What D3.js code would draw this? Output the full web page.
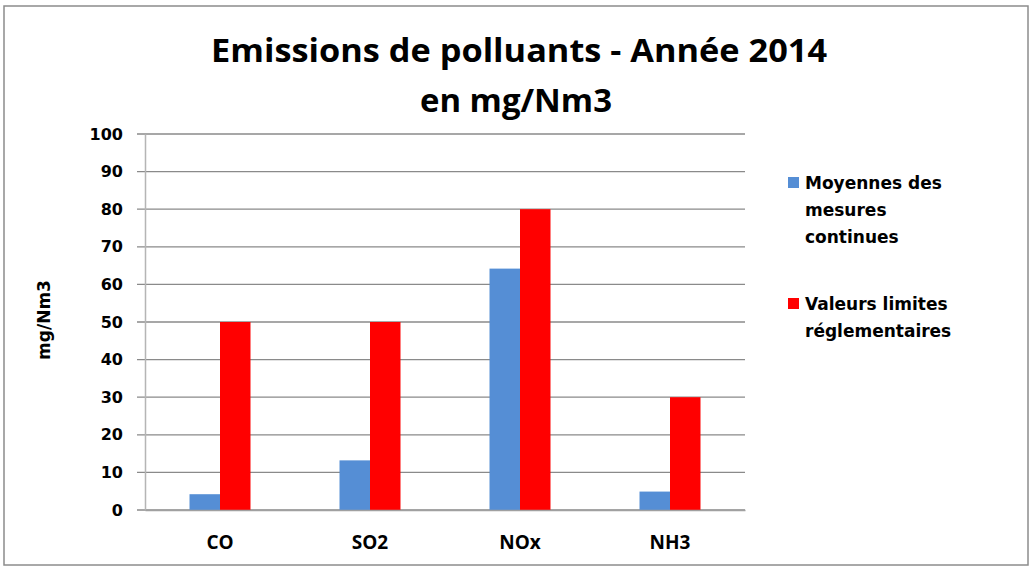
<!DOCTYPE html>
<html>
<head>
<meta charset="utf-8">
<script src="https://cdn.jsdelivr.net/npm/d3@7"></script>
<style>
  body { margin: 0; background: #fff; }
  svg { display: block; }
</style>
</head>
<body>
<div id="chart-container"></div>
<script>
// data
const categories = ["CO", "SO2", "NOx", "NH3"];
const seriesNames = ["Moyennes des mesures continues", "Valeurs limites réglementaires"];
const moyennes = [4.2, 13.2, 64.2, 4.9];
const limites = [50, 50, 80, 30];
const yTicks = [0, 10, 20, 30, 40, 50, 60, 70, 80, 90, 100];
const legendLines = [["Moyennes des", "mesures", "continues"], ["Valeurs limites", "réglementaires"]];
const colors = ["#558ed5", "#ff0000"];

const W = 1030, H = 566;
const margin = { top: 134, right: 285, bottom: 56, left: 145 };
const width = W - margin.left - margin.right;
const height = H - margin.top - margin.bottom;

const svg = d3.select("#chart-container")
  .append("svg")
    .attr("width", W)
    .attr("height", H);

// outer frame
svg.append("rect")
  .attr("x", 4).attr("y", 6)
  .attr("width", 1024).attr("height", 559)
  .attr("fill", "#fff")
  .attr("stroke", "#8c8c8c")
  .attr("stroke-width", 1.5);

// title
const title = svg.append("text")
  .attr("text-anchor", "middle")
  .attr("font-family", "'Open Sans', 'Liberation Sans', sans-serif")
  .attr("font-weight", "bold")
  .attr("font-size", 32)
  .attr("fill", "#000");
title.append("tspan").attr("x", 519).attr("y", 62)
  .attr("textLength", 616).attr("lengthAdjust", "spacingAndGlyphs")
  .text("Emissions de polluants - Année 2014");
title.append("tspan").attr("x", 516).attr("y", 112)
  .attr("textLength", 192).attr("lengthAdjust", "spacingAndGlyphs")
  .text("en mg/Nm3");

const g = svg.append("g")
  .attr("transform", `translate(${margin.left},${margin.top})`);

// scales
const x = d3.scaleBand()
  .domain(categories)
  .range([0, width]);

const y = d3.scaleLinear()
  .domain([0, 100])
  .range([height, 0]);

const barW = x.bandwidth() * 0.2033;

// gridlines
g.append("g")
  .selectAll("line")
  .data(yTicks)
  .join("line")
    .attr("x1", -8).attr("x2", width)
    .attr("y1", d => y(d)).attr("y2", d => y(d))
    .attr("stroke", "#8a8a8a")
    .attr("stroke-width", 1.3);

// y axis
const yAxis = g.append("g")
  .call(d3.axisLeft(y).tickValues(yTicks).tickSize(0).tickPadding(22));
yAxis.select(".domain").attr("stroke", "#b5b5b5").attr("stroke-width", 1.5);
yAxis.selectAll("text")
  .attr("font-family", "'DejaVu Sans', Verdana, sans-serif")
  .attr("font-weight", "bold")
  .attr("font-size", 16)
  .attr("fill", "#000");

// bars
const series = [moyennes, limites];
series.forEach((vals, i) => {
  g.append("g")
    .selectAll("rect")
    .data(categories)
    .join("rect")
      .attr("x", d => x(d) + x.bandwidth() / 2 - barW + i * barW)
      .attr("y", (d, j) => y(vals[j]))
      .attr("width", barW)
      .attr("height", (d, j) => y(0) - y(vals[j]))
      .attr("fill", colors[i]);
});

// x axis
const xAxis = g.append("g")
  .attr("transform", `translate(0,${height})`)
  .call(d3.axisBottom(x).tickSize(0).tickPadding(26));
xAxis.select(".domain").attr("stroke", "#a0a0a0").attr("stroke-width", 1.5);
xAxis.selectAll("text")
  .attr("font-family", "'Open Sans', 'Liberation Sans', sans-serif")
  .attr("font-weight", "bold")
  .attr("font-size", 19)
  .attr("fill", "#000");

// y axis title
svg.append("text")
  .attr("transform", "translate(50,320) rotate(-90)")
  .attr("text-anchor", "middle")
  .attr("font-family", "'DejaVu Sans', Verdana, sans-serif")
  .attr("font-weight", "bold")
  .attr("font-size", 17)
  .text("mg/Nm3");

// legend
const legendTop = [177, 298];
legendLines.forEach((lines, i) => {
  svg.append("rect")
    .attr("x", 788).attr("y", legendTop[i])
    .attr("width", 11).attr("height", 11)
    .attr("fill", colors[i]);
  const t = svg.append("text")
    .attr("font-family", "'DejaVu Sans', Verdana, sans-serif")
    .attr("font-weight", "bold")
    .attr("font-size", 17)
    .attr("fill", "#000");
  lines.forEach((line, k) => {
    t.append("tspan")
      .attr("x", 805)
      .attr("y", legendTop[i] + 12 + k * 27)
      .text(line);
  });
});
</script>
</body>
</html>
